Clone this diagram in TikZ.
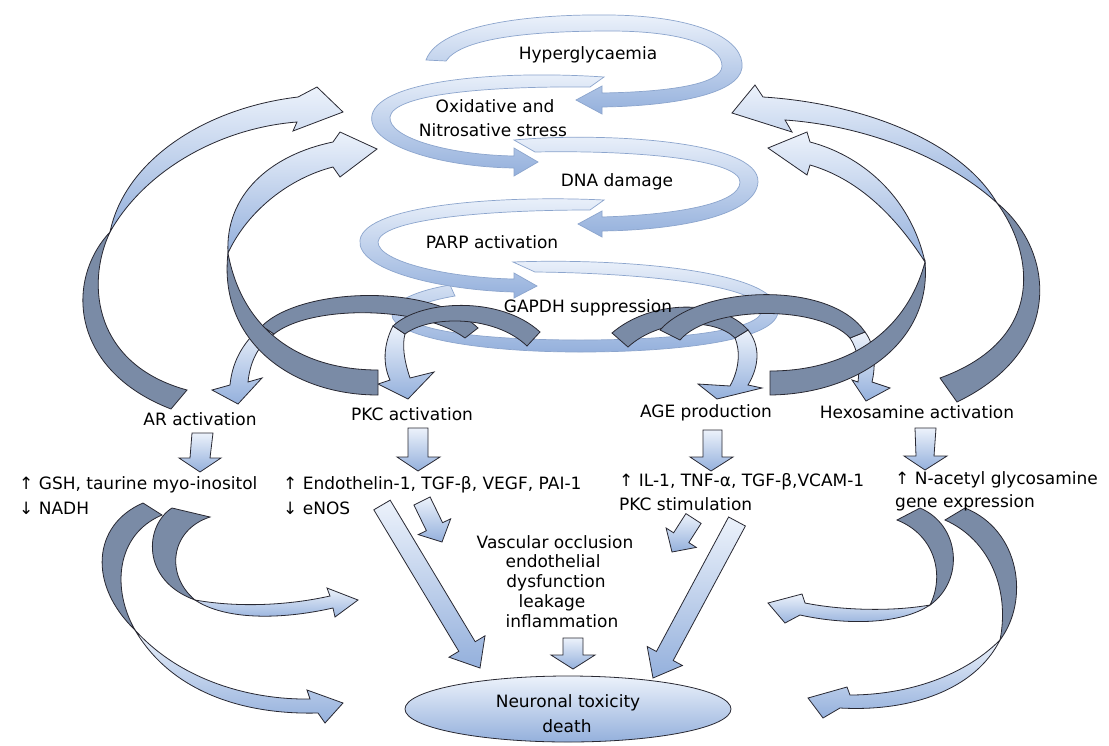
\documentclass[tikz,border=0pt]{standalone}
\usepackage{fontspec}
\setmainfont{DejaVu Sans}
\usetikzlibrary{shapes.geometric}
\definecolor{lbA}{RGB}{236,242,251}
\definecolor{lbB}{RGB}{148,176,220}
\definecolor{dk}{RGB}{122,139,166}
\definecolor{edgec}{RGB}{40,40,50}
\definecolor{rib}{RGB}{140,165,205}
\begin{document}
\begin{tikzpicture}[x=1pt,y=-1pt,
  ribbon/.style={draw=rib, line width=0.7pt, top color=lbA, bottom color=lbB},
  lite/.style={draw=edgec, line width=0.8pt, top color=lbA, bottom color=lbB},
  dark/.style={draw=edgec, line width=0.8pt, fill=dk},
  lbl/.style={anchor=base, inner sep=0pt, font=\fontsize{17}{20}\selectfont, text=black}]
\useasboundingbox (0,0) rectangle (1109,745);
\fill[white] (0,0) rectangle (1109,745);

% ---- central spiral ----
% ring E (GAPDH)
\path[ribbon] (513,262) .. controls (620,258) and (775,270) .. (778,310) .. controls (780,340) and (680,352) .. (580,352) .. controls (470,352) and (392,335) .. (392,315) .. controls (392,300) and (420,290) .. (450,285) -- (455,296) .. controls (420,302) and (408,310) .. (408,315) .. controls (410,330) and (480,340) .. (580,340) .. controls (680,340) and (762,330) .. (762,310) .. controls (760,285) and (640,273) .. (535,272) -- cycle;
% band D (PARP)
\path[ribbon] (604,200) .. controls (500,195) and (365,205) .. (360,240) .. controls (356,270) and (440,290) .. (514,292) -- (514,298) -- (537,286) -- (514,273) -- (514,279) .. controls (450,278) and (378,262) .. (378,242) .. controls (380,220) and (480,210) .. (590,210) -- cycle;
% band C (DNA)
\path[ribbon] (514,140) .. controls (600,132) and (760,140) .. (758,182) .. controls (756,215) and (680,230) .. (602,231) -- (602,237) -- (578,224) -- (602,211) -- (602,217) .. controls (670,215) and (740,205) .. (740,182) .. controls (740,160) and (640,150) .. (535,152) -- cycle;
% band B (Oxidative)
\path[ribbon] (604,77) .. controls (500,70) and (380,80) .. (372,115) .. controls (366,145) and (440,167) .. (514,168) -- (514,176) -- (538,162) -- (514,148) -- (514,156) .. controls (450,155) and (388,138) .. (390,117) .. controls (393,95) and (480,86) .. (590,87) -- cycle;
% band A (Hyperglycaemia)
\path[ribbon] (426,60) .. controls (440,22) and (540,14) .. (610,15) .. controls (700,16) and (745,40) .. (742,68) .. controls (738,95) and (670,106) .. (602,107) -- (602,114) -- (576,100) -- (602,86) -- (602,93) .. controls (665,92) and (722,85) .. (722,66) .. controls (722,45) and (680,31) .. (610,31) .. controls (520,31) and (460,40) .. (446,61) -- cycle;

% ---- small arrows from the ring ----
% to AR
\path[lite] (262,326) .. controls (240,345) and (232,365) .. (230,385) -- (212,390) -- (238,404) -- (262,378) -- (248,382) .. controls (250,362) and (258,345) .. (274,334) -- cycle;
\path[dark] (262,326) .. controls (300,288) and (430,282) .. (478,328) -- (465,338) .. controls (420,305) and (310,305) .. (274,334) -- cycle;
% to PKC
\path[lite] (393,326) .. controls (383,345) and (383,365) .. (390,380) -- (378,384) -- (408,399) -- (434,372) -- (410,378) .. controls (404,360) and (402,345) .. (405,334) -- cycle;
\path[dark] (393,326) .. controls (420,300) and (500,295) .. (540,332) -- (527,346) .. controls (495,315) and (430,315) .. (405,334) -- cycle;
% to AGE
\path[lite] (748,330) .. controls (760,345) and (760,365) .. (748,385) -- (762,388) -- (717,399) -- (698,384) -- (730,386) .. controls (740,368) and (740,350) .. (735,338) -- cycle;
\path[dark] (612,333) .. controls (650,300) and (720,298) .. (748,330) -- (735,338) .. controls (715,318) and (660,318) .. (628,347) -- cycle;
% to Hexosamine
\path[lite] (865,332) .. controls (875,345) and (876,365) .. (872,382) -- (890,388) -- (866,401) -- (852,380) -- (858,382) .. controls (860,365) and (858,350) .. (850,338) -- cycle;
\path[dark] (660,330) .. controls (700,285) and (830,280) .. (865,332) -- (850,338) .. controls (820,305) and (710,305) .. (680,340) -- cycle;

% ---- big feedback arcs ----
\path[dark] (187,390) .. controls (95,365) and (85,285) .. (110,232) .. controls (65,280) and (70,370) .. (171,409) -- cycle;
\path[lite] (110,232) .. controls (125,160) and (205,108) .. (298,97) -- (317,87) -- (343,112) -- (293,131) -- (297,122) .. controls (220,128) and (145,170) .. (110,232) -- cycle;
\path[dark] (378,370) .. controls (300,370) and (242,330) .. (228,253) .. controls (218,340) and (290,395) .. (378,395) -- cycle;
\path[lite] (228,253) .. controls (225,195) and (270,155) .. (333,142) -- (340,132) -- (377,149) -- (340,177) -- (333,167) .. controls (290,178) and (248,210) .. (228,253) -- cycle;
\path[dark] (997,203) .. controls (1055,250) and (1065,350) .. (957,402) -- (940,378) .. controls (1045,340) and (1035,255) .. (997,203) -- cycle;
\path[lite] (997,203) .. controls (960,140) and (860,103) .. (763,97) -- (755,85) -- (732,113) -- (792,132) -- (785,120) .. controls (870,126) and (950,160) .. (997,203) -- cycle;
\path[dark] (925,262) .. controls (932,340) and (860,394) .. (770,395) -- (770,371) .. controls (850,371) and (907,330) .. (925,262) -- cycle;
\path[lite] (925,262) .. controls (910,195) and (860,155) .. (810,142) -- (807,132) -- (768,148) -- (807,175) -- (810,165) .. controls (855,178) and (893,212) .. (925,262) -- cycle;

% ---- straight block arrows ----
\path[lite] (192,433) -- (213,433) -- (210,458) -- (221,458) -- (200,472) -- (179,458) -- (190,458) -- cycle;
\path[lite] (408,428) -- (428,428) -- (428,457) -- (440,457) -- (418,471) -- (397,457) -- (408,457) -- cycle;
\path[lite] (703,430) -- (722,430) -- (722,457) -- (733,457) -- (711,471) -- (690,457) -- (703,457) -- cycle;
\path[lite] (915,428) -- (936,428) -- (934,456) -- (947,456) -- (925,470) -- (904,456) -- (916,456) -- cycle;
\path[lite] (373.8,509.8) -- (390.2,500.2) -- (475.2,641.7) -- (485,635.8) -- (480,668) -- (449,657.2) -- (458.8,651.3) -- cycle;
\path[lite] (413.9,505) -- (430.1,497) -- (442.6,522.7) -- (450.7,518.8) -- (442,542) -- (418.3,534.6) -- (426.4,530.7) -- cycle;
\path[lite] (685.9,513.6) -- (701.1,523.4) -- (688.8,542.6) -- (696.3,547.4) -- (672,552) -- (666.1,528) -- (673.6,532.8) -- cycle;
\path[lite] (728.6,517) -- (745.4,526) -- (673.2,660.5) -- (682.4,665.5) -- (653,678) -- (647.2,646.5) -- (656.4,651.5) -- cycle;
\path[lite] (563,638) -- (583,638) -- (583,655) -- (595,655) -- (573,669) -- (551,655) -- (563,655) -- cycle;

% ---- lower curved arrows ----
\path[lite] (135,630) .. controls (180,680) and (250,700) .. (310,699) -- (307,690) -- (343,703) -- (325,723) -- (318,713) .. controls (240,715) and (170,690) .. (135,630) -- cycle;
\path[dark] (143,503) .. controls (92,525) and (88,585) .. (135,630) .. controls (112,590) and (115,535) .. (162,515) -- cycle;
\path[lite] (195,600) .. controls (240,608) and (290,605) .. (330,596) -- (327,588) -- (358,600) -- (335,617) -- (333,608) .. controls (280,620) and (225,620) .. (195,600) -- cycle;
\path[dark] (172,508) .. controls (145,525) and (140,580) .. (195,600) .. controls (165,575) and (170,530) .. (210,517) -- cycle;
\path[lite] (930,605) .. controls (890,612) and (840,610) .. (805,603) -- (802,594) -- (768,603) -- (785,623) -- (800,615) .. controls (845,625) and (900,625) .. (930,605) -- cycle;
\path[dark] (920,508) .. controls (960,525) and (965,580) .. (930,605) .. controls (945,575) and (935,535) .. (897,520) -- cycle;
\path[lite] (1000,640) .. controls (960,680) and (900,695) .. (850,695) -- (847,687) -- (808,698) -- (823,718) -- (840,708) .. controls (910,712) and (975,690) .. (1000,640) -- cycle;
\path[dark] (965,508) .. controls (1020,530) and (1030,600) .. (1000,640) .. controls (1010,590) and (990,540) .. (945,520) -- cycle;

% ---- outcome ----
\node[ellipse, draw=edgec, line width=0.8pt, top color=lbA, bottom color=lbB, minimum width=326pt, minimum height=66pt, inner sep=0pt] (tox) at (568,709) {};

% ---- labels ----
\node[lbl] (hyper) at (588,59) {Hyperglycaemia};
\node[lbl] (ox1) at (495,112) {Oxidative and};
\node[lbl] (ox2) at (493,136) {Nitrosative stress};
\node[lbl] (dna) at (617,186) {DNA damage};
\node[lbl] (parp) at (492,248) {PARP activation};
\node[lbl] (gapdh) at (588,312) {GAPDH suppression};
\node[lbl] (ar) at (200,425) {AR activation};
\node[lbl] (pkc) at (412,420) {PKC activation};
\node[lbl] (age) at (706,417) {AGE production};
\node[lbl] (hex) at (917,418) {Hexosamine activation};
\node[lbl,anchor=base west] (gsh) at (19,489) {↑ GSH, taurine myo-inositol};
\node[lbl,anchor=base west] (nadh) at (19,514) {↓ NADH};
\node[lbl,anchor=base west] (endo) at (283,489) {↑ Endothelin-1, TGF-β, VEGF, PAI-1};
\node[lbl,anchor=base west] (enos) at (283,514) {↓ eNOS};
\node[lbl,anchor=base west] (il) at (619,486) {↑ IL-1, TNF-α, TGF-β,VCAM-1};
\node[lbl,anchor=base west] (pkcs) at (619,510) {PKC stimulation};
\node[lbl,anchor=base west] (nac) at (895,484) {↑ N-acetyl glycosamine};
\node[lbl,anchor=base west] (gene) at (895,507) {gene expression};
\node[lbl] (v1) at (555,548) {Vascular occlusion};
\node[lbl] (v2) at (553,567) {endothelial};
\node[lbl] (v3) at (556,587) {dysfunction};
\node[lbl] (v4) at (552,607) {leakage};
\node[lbl] (v5) at (562,627) {inflammation};
\node[lbl] (tox1) at (568,707) {Neuronal toxicity};
\node[lbl] (tox2) at (567,732) {death};
\end{tikzpicture}
\end{document}
